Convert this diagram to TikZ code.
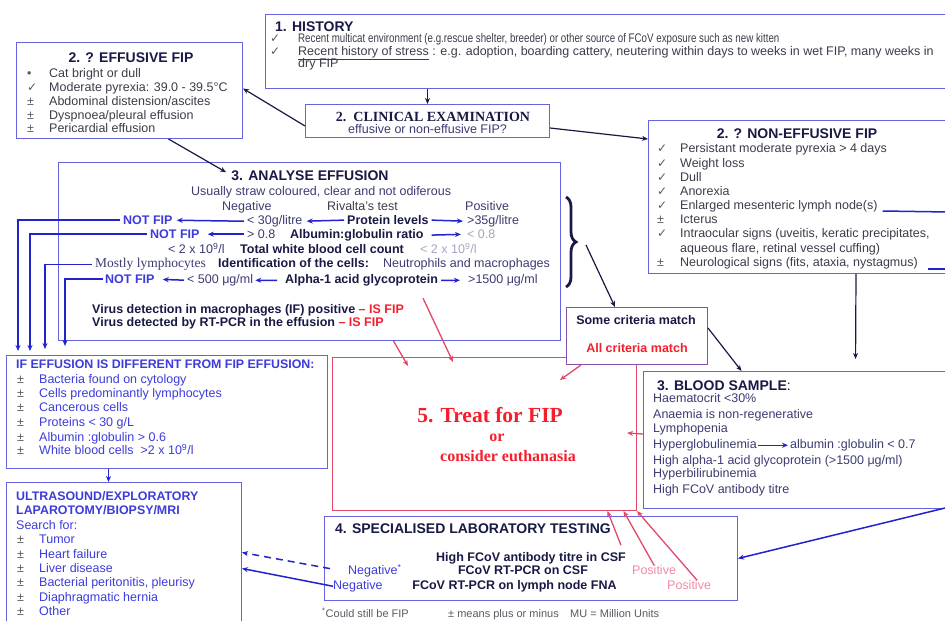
\documentclass[tikz,border=0pt]{standalone}
\usepackage{fontspec}
\setmainfont{Liberation Sans}
\newfontfamily\serif{Liberation Serif}
\newfontfamily\dvs{DejaVu Sans}
\newfontfamily\condf[FakeStretch=0.78]{Liberation Sans}
\usetikzlibrary{arrows.meta,decorations.pathreplacing}
\definecolor{boxc}{RGB}{100,100,225}
\definecolor{navy}{RGB}{25,25,70}
\definecolor{tgray}{RGB}{60,60,75}
\definecolor{slate}{RGB}{60,60,115}
\definecolor{fblue}{RGB}{60,60,220}
\definecolor{ablue}{RGB}{35,35,205}
\definecolor{fred}{RGB}{245,30,45}
\definecolor{pinkc}{RGB}{228,72,105}
\definecolor{somec}{RGB}{135,80,170}
\definecolor{faded}{RGB}{165,165,195}
\definecolor{fpink}{RGB}{240,140,165}
\definecolor{lgray}{RGB}{90,90,100}
\newcommand\fsz[1]{\fontsize{#1}{#1}\selectfont}
\newcommand\ckm{{\dvs\fsz{12}\textcolor{lgray}{✓}}}
\begin{document}
\begin{tikzpicture}[x=1pt,y=-1pt,
 tx/.style={anchor=base west, inner sep=0pt},
 tc/.style={anchor=base, inner sep=0pt},
 box/.style={draw=boxc, line width=1pt, fill=white, inner sep=0pt, anchor=north west},
 darr/.style={draw=navy, line width=1.2pt, -{Stealth[length=6pt,width=5pt]}},
 barr/.style={draw=ablue, line width=1.5pt, -{Stealth[length=6pt,width=5pt]}},
 bline/.style={draw=ablue, line width=1.5pt},
 rarr/.style={draw=pinkc, line width=1.3pt, -{Stealth[length=6pt,width=5pt]}},
 body/.style={font=\fsz{12.5}},
 ttl/.style={font=\bfseries\fsz{14}, text=navy},
 bld/.style={font=\bfseries\fsz{12.5}, text=navy},
]
\useasboundingbox (0,0) rectangle (945,621);
\fill[white] (0,0) rectangle (945,621);

% ---------- boxes
\node[box, minimum width=684pt, minimum height=74pt] (hist) at (265,14) {};
\node[box, minimum width=226pt, minimum height=96pt] (eff) at (16,42) {};
\node[box, minimum width=244pt, minimum height=33pt] (clin) at (305,104) {};
\node[box, minimum width=301pt, minimum height=153pt] (noneff) at (648,120) {};
\node[box, minimum width=502pt, minimum height=178pt] (ana) at (58,162) {};
\node[box, minimum width=321pt, minimum height=113pt] (ifb) at (6,355) {};
\node[box, minimum width=235pt, minimum height=150pt] (us) at (6,482) {};
\node[box, draw=pinkc, minimum width=304pt, minimum height=153pt] (treat) at (332,357) {};
\node[box, draw=somec, minimum width=141pt, minimum height=57pt] (some) at (566,307) {};
\node[box, minimum width=306pt, minimum height=137pt] (blood) at (643,371) {};
\node[box, minimum width=413pt, minimum height=84pt] (lab) at (324,516) {};

% ---------- 1. history
\node[tx, ttl] (histt) at (275,31) {1. HISTORY};
\node[tx] (hc1) at (270,42.5) {\ckm};
\node[tx, font=\condf\fsz{12.5}, text=tgray] (h1) at (298,42.5) {Recent multicat environment (e.g.rescue shelter, breeder) or other source of FCoV exposure such as new kitten};
\node[tx] (hc2) at (270,55) {\ckm};
\node[tx, body, text=tgray] (h2) at (298,55) {\underline{Recent history of stress} : e.g. adoption, boarding cattery, neutering within days to weeks in wet FIP, many weeks in};
\node[tx, body, text=tgray] (h3) at (298,67.5) {dry FIP};

% ---------- 2. effusive
\node[tc, ttl] (efft) at (131,62) {2. ? EFFUSIVE FIP};
\node[tx, body, text=lgray] (eb1) at (27,77.5) {•};
\node[tx] (eb2) at (27,91.5) {\ckm};
\node[tx, body, text=lgray] (eb3) at (27,105.5) {±};
\node[tx, body, text=lgray] (eb4) at (27,119.5) {±};
\node[tx, body, text=lgray] (eb5) at (27,132.5) {±};
\node[tx, body, text=tgray] (e1) at (49,77.5) {Cat bright or dull};
\node[tx, body, text=tgray] (e2) at (49,91.5) {Moderate pyrexia: 39.0 - 39.5°C};
\node[tx, body, text=tgray] (e3) at (49,105.5) {Abdominal distension/ascites};
\node[tx, body, text=tgray] (e4) at (49,119.5) {Dyspnoea/pleural effusion};
\node[tx, body, text=tgray] (e5) at (49,132.5) {Pericardial effusion};

% ---------- 2. clinical examination
\node[tc, font=\serif\bfseries\fsz{14}, text=navy] (clint) at (433,121) {2.\ \ CLINICAL EXAMINATION};
\node[tx, body, text=slate] (clins) at (348,133) {effusive or non-effusive FIP?};

% ---------- 2. non-effusive
\node[tc, ttl] (nefft) at (797,138) {2. ? NON-EFFUSIVE FIP};
\node[tx] (nb1) at (657,152.5) {\ckm};
\node[tx] (nb2) at (657,167.5) {\ckm};
\node[tx] (nb3) at (657,181.5) {\ckm};
\node[tx] (nb4) at (657,195.5) {\ckm};
\node[tx] (nb5) at (657,209.5) {\ckm};
\node[tx, body, text=lgray] (nb6) at (657,223.5) {±};
\node[tx] (nb7) at (657,237.5) {\ckm};
\node[tx, body, text=lgray] (nb9) at (657,266.5) {±};
\node[tx, body, text=tgray] (ne1) at (680,152.5) {Persistant moderate pyrexia > 4 days};
\node[tx, body, text=tgray] (ne2) at (680,167.5) {Weight loss};
\node[tx, body, text=tgray] (ne3) at (680,181.5) {Dull};
\node[tx, body, text=tgray] (ne4) at (680,195.5) {Anorexia};
\node[tx, body, text=tgray] (ne5) at (680,209.5) {Enlarged mesenteric lymph node(s)};
\node[tx, body, text=tgray] (ne6) at (680,223.5) {Icterus};
\node[tx, body, text=tgray] (ne7) at (680,237.5) {Intraocular signs (uveitis, keratic precipitates,};
\node[tx, body, text=tgray] (ne8) at (680,252.5) {aqueous flare, retinal vessel cuffing)};
\node[tx, body, text=tgray] (ne9) at (680,266.5) {Neurological signs (fits, ataxia, nystagmus)};

% ---------- 3. analyse effusion
\node[tc, ttl] (anat) at (310,180) {3. ANALYSE EFFUSION};
\node[tx, body, text=slate] (usu) at (191,195.5) {Usually straw coloured, clear and not odiferous};
\node[tx, body, text=slate] (negh) at (222,210.5) {Negative};
\node[tx, body, text=tgray] (rivh) at (327,210.5) {Rivalta's test};
\node[tx, body, text=slate] (posh) at (465,210.5) {Positive};

\node[tx, font=\bfseries\fsz{12.5}, text=fblue] (nf1) at (123,224.5) {NOT FIP};
\node[tx, body, text=slate] (lt30) at (247,224.5) {< 30g/litre};
\node[tx, bld] (prot) at (347,224.5) {Protein levels};
\node[tx, body, text=slate] (gt35) at (467,224.5) {>35g/litre};

\node[tx, font=\bfseries\fsz{12.5}, text=fblue] (nf2) at (150,238.5) {NOT FIP};
\node[tx, body, text=slate] (gt08) at (247,238.5) {> 0.8};
\node[tx, bld] (alb) at (290,238.5) {Albumin:globulin ratio};
\node[tx, body, text=faded] (lt08) at (467,238.5) {< 0.8};

\node[tx, body, text=slate] (wbcn) at (168,253.5) {< 2 x 10\textsuperscript{9}/l};
\node[tx, bld] (wbc) at (240,253.5) {Total white blood cell count};
\node[tx, body, text=faded] (wbcp) at (420,253.5) {< 2 x 10\textsuperscript{9}/l};

\node[tx, font=\serif\fsz{13.5}, text=slate] (lymph) at (95,267.5) {Mostly lymphocytes};
\node[tx, bld] (ident) at (218,267.5) {Identification of the cells:};
\node[tx, body, text=slate] (neut) at (383,267.5) {Neutrophils and macrophages};

\node[tx, font=\bfseries\fsz{12.5}, text=fblue] (nf3) at (105,283.5) {NOT FIP};
\node[tx, body, text=slate] (lt500) at (187,283.5) {< 500 μg/ml};
\node[tx, bld] (alpha) at (285,283.5) {Alpha-1 acid glycoprotein};
\node[tx, body, text=slate] (gt1500) at (468,283.5) {>1500 μg/ml};

\node[tx, bld] (v1) at (92,313.5) {Virus detection in macrophages (IF) positive \textcolor{fred}{– IS FIP}};
\node[tx, bld] (v2) at (92,326.5) {Virus detected by RT-PCR in the effusion \textcolor{fred}{– IS FIP}};

% arrows in the analysis rows
\draw[barr, shorten <=3pt, shorten >=4pt] (lt30.west) -- (nf1.east);
\draw[barr, shorten <=3pt, shorten >=4pt] (prot.west) -- (lt30.east);
\draw[barr, shorten <=3pt, shorten >=4pt] (prot.east) -- (gt35.west);
\draw[barr, shorten <=3pt, shorten >=8pt] (gt08.west) -- (nf2.east);
\draw[barr, shorten <=8pt, shorten >=6pt] (alb.east) -- (lt08.west);
\draw[barr, shorten <=3pt, shorten >=8pt] (lt500.west) -- (nf3.east);
\draw[barr, shorten <=8pt, shorten >=2pt] (alpha.west) -- (lt500.east);
\draw[barr, shorten <=3pt, shorten >=8pt] (alpha.east) -- (gt1500.west);

% brace
\draw[navy, line width=2.8pt, decorate, decoration={brace, amplitude=10pt}] (566,197) -- (566,287);
\coordinate (bracetip) at (586,245);

% ---------- some / all criteria
\node[tc, bld] (somet) at (636,324.5) {Some criteria match};
\node[tc, font=\bfseries\fsz{12.5}, text=fred] (allt) at (637,352.5) {All criteria match};

% ---------- IF effusion different
\node[tx, font=\bfseries\fsz{12.4}, text=fblue] (ift) at (16,368.5) {IF EFFUSION IS DIFFERENT FROM FIP EFFUSION:};
\foreach \yy/\tt/\nm in {383.5/{Bacteria  found on cytology}/i1, 397.5/{Cells predominantly lymphocytes}/i2, 411.5/{Cancerous cells}/i3, 426.5/{Proteins < 30 g/L}/i4, 441.5/{Albumin :globulin > 0.6}/i5}{
  \node[tx, body, text=lgray] at (17,\yy) {±};
  \node[tx, body, text=fblue] (\nm) at (39,\yy) {\tt};
}
\node[tx, body, text=lgray] at (17,454.5) {±};
\node[tx, body, text=fblue] (i6) at (39,454.5) {White blood cells \ >2 x 10\textsuperscript{9}/l};

% ---------- ultrasound
\node[tx, font=\bfseries\fsz{12.4}, text=fblue] (ust1) at (16,500.5) {ULTRASOUND/EXPLORATORY};
\node[tx, font=\bfseries\fsz{12.4}, text=fblue] (ust2) at (16,514.5) {LAPAROTOMY/BIOPSY/MRI};
\node[tx, body, text=fblue] (ust3) at (16,529.5) {Search for:};
\foreach \yy/\tt/\nm in {543.5/{Tumor}/u1, 558.5/{Heart failure}/u2, 572.5/{Liver disease}/u3, 586.5/{Bacterial peritonitis, pleurisy}/u4, 601.5/{Diaphragmatic hernia}/u5, 615.5/{Other}/u6}{
  \node[tx, body, text=lgray] at (17,\yy) {±};
  \node[tx, body, text=fblue] (\nm) at (39,\yy) {\tt};
}

% ---------- 5. treat
\node[tc, font=\serif\bfseries\fsz{21.5}, text=fred] (tr1) at (490,422) {5. Treat for FIP};
\node[tc, font=\serif\bfseries\fsz{16}, text=fred] (tr2) at (497,441) {or};
\node[tc, font=\serif\bfseries\fsz{16}, text=fred] (tr3) at (508,461) {consider euthanasia};

% ---------- 3. blood sample
\node[tx, ttl] (bloodt) at (657,390) {3. BLOOD SAMPLE\textmd{:}};
\node[tx, body, text=slate] (b1) at (653,402.5) {Haematocrit <30\%};
\node[tx, body, text=slate] (b2) at (653,418.5) {Anaemia is non-regenerative};
\node[tx, body, text=slate] (b3) at (653,432.5) {Lymphopenia};
\node[tx, body, text=slate] (b4) at (653,448.5) {Hyperglobulinemia};
\node[tx, body, text=slate] (b4b) at (790,448.5) {albumin :globulin < 0.7};
\node[tx, body, text=slate] (b5) at (653,464.5) {High alpha-1 acid glycoprotein (>1500 μg/ml)};
\node[tx, body, text=slate] (b6) at (653,477.5) {Hyperbilirubinemia};
\node[tx, body, text=slate] (b7) at (653,493.5) {High FCoV antibody titre};
\draw[barr, shorten <=1pt, shorten >=2pt] (b4.east) -- (b4b.west);

% ---------- 4. lab testing
\node[tx, ttl] (labt) at (335,533) {4. SPECIALISED LABORATORY TESTING};
\node[tc, bld] (l1) at (531,561.5) {High FCoV antibody titre in CSF};
\node[tc, bld] (l2) at (523,574.5) {FCoV RT-PCR on CSF};
\node[tc, bld] (l3) at (514.5,589.5) {FCoV RT-PCR on lymph node FNA};
\node[tx, body, text=fblue] (neg1) at (348,574.5) {Negative\textsuperscript{*}};
\node[tx, body, text=fblue] (neg2) at (333,589.5) {Negative};
\node[tx, body, text=fpink] (pos1) at (632,574.5) {Positive};
\node[tx, body, text=fpink] (pos2) at (667,589.5) {Positive};

% ---------- footer
\node[tx, font=\fsz{11}, text=lgray] (fn1) at (322,617) {\textsuperscript{*}Could still be FIP};
\node[tx, font=\fsz{11}, text=lgray] (fn2) at (448,617) {± means plus or minus};
\node[tx, font=\fsz{11}, text=lgray] (fn3) at (570,617) {MU = Million Units};

% ---------- connectors
\draw[darr] (hist.south -| clin.north) -- (clin.north);
\draw[darr] ([yshift=-5pt]clin.west) -- ([yshift=2pt]eff.east);
\draw[darr] ([yshift=-7pt]clin.east) -- ([yshift=-19pt]noneff.north west);
\draw[darr, shorten >=6pt] ([xshift=39pt]eff.south) -- (anat.west);
\draw[darr] (bracetip) -- ([xshift=-22pt]some.north);
\draw[darr] ([yshift=8pt]some.east) -- ([xshift=-55pt]blood.north);
\draw[darr, shorten >=12pt] ([xshift=57pt]noneff.south) -- ([xshift=59pt]blood.north);

\coordinate (re1) at (948,212);
\coordinate (re2) at (948,269);
\coordinate (re3) at (945,508);
\draw[bline] ([xshift=5pt,yshift=-1.5pt]ne5.base east) -- (re1);
\draw[bline] ([xshift=10pt,yshift=-2.5pt]ne9.base east) -- (re2);
\draw[barr] (re3) -- (lab.east);

% red connectors to treat
\coordinate (t1) at (560,380);
\coordinate (t2) at (453,362);
\coordinate (t3) at (408,366);
\coordinate (t4) at (627,433);
\draw[rarr] ([xshift=-56pt]some.south) -- (t1);
\draw[rarr] ([xshift=19pt,yshift=6pt]v1.north east) -- (t2);
\draw[rarr] ([xshift=84pt]ana.south) -- (t3);
\draw[rarr] ([yshift=6pt]blood.west) -- (t4);
\draw[rarr] ([xshift=-5pt,yshift=7pt]l1.north east) -- ([xshift=123pt]treat.south);
\draw[rarr] (pos1.north) -- ([xshift=139pt]treat.south);
\draw[rarr] ([xshift=8pt]pos2.north) -- (treat.south east);

% negative -> ultrasound
\draw[barr, dash pattern=on 7pt off 5pt] ([xshift=-18pt,yshift=2pt]neg1.west) -- ([yshift=5pt]us.east);
\draw[barr] (neg2.west) -- ([yshift=-11pt]us.east);
\draw[barr] ([xshift=-58.5pt]ifb.south) -- ([xshift=-15.5pt]us.north);

% NOT FIP -> IF effusion different
\coordinate (in1) at (18,351);
\coordinate (in2) at (30,351);
\coordinate (in3) at (45,349);
\coordinate (in4) at (65,346);
\draw[barr, shorten <=3pt] (nf1.west) -| (in1);
\draw[barr, shorten <=3pt] (nf2.west) -| (in2);
\draw[barr, shorten <=3pt] (lymph.west) -| (in3);
\draw[barr, shorten <=2pt] (nf3.west) -| (in4);
\end{tikzpicture}
\end{document}
